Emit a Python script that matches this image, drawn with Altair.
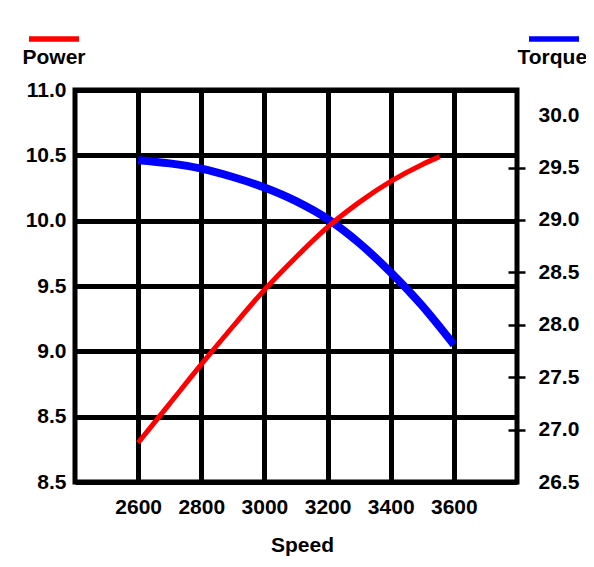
import altair as alt
import pandas as pd

# Data
power_speed = [2600, 2700, 2800, 2900, 3000, 3100, 3200, 3300, 3400, 3500, 3555]
power_vals = [8.30, 8.60, 8.90, 9.19, 9.47, 9.72, 9.95, 10.14, 10.30, 10.43, 10.49]

torque_speed = [2600, 2700, 2800, 2900, 3000, 3100, 3200, 3300, 3400, 3500, 3600]
torque_vals = [29.57, 29.54, 29.49, 29.41, 29.31, 29.18, 29.01, 28.78, 28.50, 28.18, 27.81]

x_ticks = [2600, 2800, 3000, 3200, 3400, 3600]
power_ticks = [8.0, 8.5, 9.0, 9.5, 10.0, 10.5, 11.0]
torque_ticks = [26.5, 27.0, 27.5, 28.0, 28.5, 29.0, 29.5, 30.0]

FONT = "Liberation Sans"
FS = 21

df_p = pd.DataFrame({"speed": power_speed, "value": power_vals, "series": "Power"})
df_t = pd.DataFrame({"speed": torque_speed, "value": torque_vals, "series": "Torque"})

x_enc = alt.X(
    "speed:Q",
    scale=alt.Scale(domain=[2400, 3800], nice=False, zero=False),
    axis=alt.Axis(
        values=x_ticks, format="d", title="Speed",
        grid=True, gridColor="black", gridWidth=5, gridOpacity=1,
        domain=False, ticks=False, tickSize=0,
        labelFont=FONT, labelFontSize=FS, labelFontWeight="bold", labelColor="black",
        labelPadding=14, labelBaseline="top",
        titleFont=FONT, titleFontSize=FS, titleFontWeight="bold", titleColor="black",
        titlePadding=17, titleX=227,
    ),
)

torque = alt.Chart(df_t).mark_line(strokeWidth=8, interpolate="monotone").encode(
    x=x_enc,
    y=alt.Y(
        "value:Q",
        scale=alt.Scale(domain=[26.5, 30.24], nice=False, zero=False),
        axis=alt.Axis(
            orient="right", values=torque_ticks, format=".1f", title="Torque",
            grid=False, domain=False, ticks=True, tickSize=17, tickWidth=2.5,
            tickColor="black",
            tickOpacity=alt.condition("datum.value > 26.6 && datum.value < 29.9",
                                      alt.value(1), alt.value(0)),
            offset=-9, labelPadding=13,
            labelFont=FONT, labelFontSize=FS, labelFontWeight="bold", labelColor="black",
            labelAlign="left", labelBaseline="middle",
            titleFont=FONT, titleFontSize=FS, titleFontWeight="bold", titleColor="black",
            titleAngle=0, titleAlign="left", titleBaseline="alphabetic",
            titleX=9, titleY=-27,
        ),
    ),
    color=alt.Color(
        "series:N",
        scale=alt.Scale(domain=["Torque"], range=["#0000ff"]),
        legend=alt.Legend(
            orient="none", legendX=451, legendY=-79, title=None,
            symbolType="stroke", symbolSize=2500, symbolStrokeWidth=5.5,
            labelExpr="''", labelFontSize=1, padding=0,
        ),
    ),
)

power = alt.Chart(df_p).mark_line(strokeWidth=5, interpolate="monotone").encode(
    x=x_enc,
    y=alt.Y(
        "value:Q",
        scale=alt.Scale(domain=[8.0, 11.0], nice=False, zero=False),
        axis=alt.Axis(
            orient="left", values=power_ticks, title="Power",
            labelExpr="datum.value == 8 ? '8.5' : format(datum.value, '.1f')",
            grid=True, gridColor="black", gridWidth=5, gridOpacity=1,
            domain=False, ticks=False, tickSize=0, labelPadding=9,
            labelFont=FONT, labelFontSize=FS, labelFontWeight="bold", labelColor="black",
            labelBaseline="middle",
            titleFont=FONT, titleFontSize=FS, titleFontWeight="bold", titleColor="black",
            titleAngle=0, titleAlign="left", titleBaseline="alphabetic",
            titleX=-53, titleY=-27,
        ),
    ),
    color=alt.Color(
        "series:N",
        scale=alt.Scale(domain=["Power"], range=["#ff0000"]),
        legend=alt.Legend(
            orient="none", legendX=-49, legendY=-79, title=None,
            symbolType="stroke", symbolSize=2500, symbolStrokeWidth=5.5,
            labelExpr="''", labelFontSize=1, padding=0,
        ),
    ),
)

chart = (
    alt.layer(torque, power)
    .resolve_scale(y="independent", color="independent")
    .resolve_legend(color="independent")
    .properties(
        width=442, height=392,
        autosize=alt.AutoSizeParams(type="none"),
        padding={"left": 67, "top": 82, "right": 69, "bottom": 77},
        background="white",
    )
    .configure_view(stroke="black", strokeWidth=5)
)

chart.save("out.html", embed_options={"renderer": "svg", "actions": False})
